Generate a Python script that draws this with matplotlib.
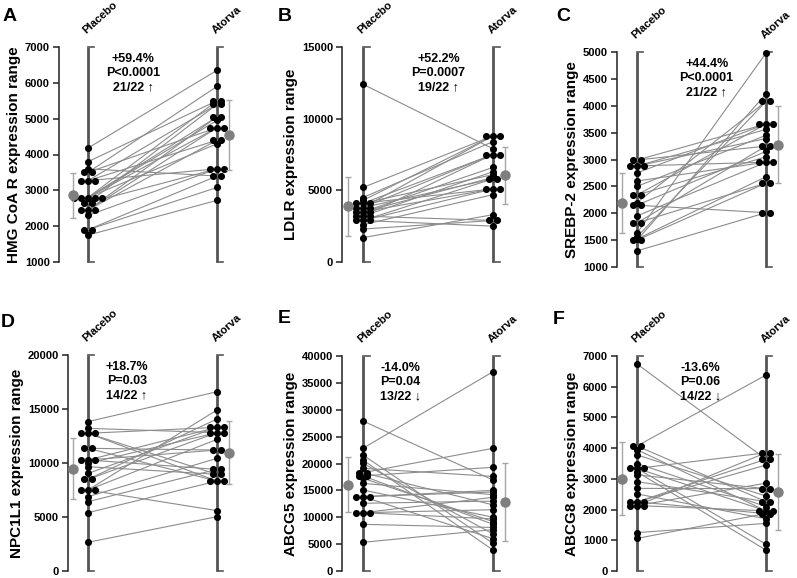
import matplotlib.pyplot as plt
import matplotlib.transforms as mtransforms
import numpy as np

plt.rcParams['font.family'] = ['Liberation Sans', 'DejaVu Sans']
plt.rcParams['font.weight'] = 'bold'

## -- paired values per subject (placebo[i] <-> atorva[i])
hmg_placebo = [4180, 3800, 3600, 3500, 3500, 3270, 3270, 3270, 2800, 2800, 2800,
               2800, 2800, 2650, 2650, 2450, 2450, 2450, 2300, 1900, 1900, 1750]
hmg_atorva  = [6350, 5500, 3400, 5900, 4750, 5400, 3600, 4400, 5500, 5050, 4950,
               4750, 4300, 5400, 3600, 5050, 4750, 4400, 3600, 3400, 3080, 2720]

ldlr_placebo = [12400, 5200, 4500, 4300, 4100, 4100, 4100, 3800, 3800, 3800, 3500,
                3500, 3500, 3200, 3200, 3200, 2900, 2900, 2900, 2600, 2300, 1700]
ldlr_atorva  = [7900, 8800, 8400, 8800, 7500, 6100, 5100, 8800, 7500, 5800, 6600,
                5900, 5100, 7500, 6300, 2900, 5800, 5100, 2500, 4700, 2900, 3300]

srebp_placebo = [2990, 2990, 2880, 2880, 2880, 2750, 2600, 2500, 2340, 2340, 2200,
                 2150, 2150, 1950, 1820, 1820, 1630, 1560, 1520, 1500, 1500, 1300]
srebp_atorva  = [3660, 3250, 3560, 3390, 2950, 3660, 2950, 3450, 3660, 3050, 4080,
                 2010, 3150, 2950, 3250, 2560, 4980, 4080, 2680, 2560, 4220, 2010]

npc_placebo = [13830, 13210, 12750, 12750, 12750, 11360, 11360, 10280, 10280, 10280, 9970,
               9660, 9040, 8490, 8490, 7500, 7500, 7500, 6880, 6420, 5400, 2660]
npc_atorva  = [16600, 12810, 13300, 8950, 8330, 11200, 8330, 13300, 9410, 11200, 12810,
               8950, 13300, 12810, 14070, 5590, 14910, 12190, 10430, 9410, 8330, 5030]

abcg5_placebo = [27900, 22830, 21580, 20650, 20030, 19100, 18290, 18290, 17700, 17700, 17240,
                 16300, 15070, 13830, 13830, 13830, 12600, 10850, 10850, 10850, 8680, 5330]
abcg5_atorva  = [16930, 37080, 5150, 3900, 6900, 17600, 22830, 12300, 19290, 8700, 9200,
                 14200, 10000, 15000, 14700, 6000, 13000, 11400, 13700, 9700, 8100, 7700]

abcg8_placebo = [6740, 4070, 4070, 3950, 3780, 3500, 3340, 3340, 3340, 3230, 3130,
                 2910, 2690, 2510, 2250, 2250, 2250, 2130, 2130, 2130, 1250, 1060]
abcg8_atorva  = [3640, 6380, 2260, 1960, 2440, 2100, 3850, 870, 1960, 680, 2680,
                 2260, 2680, 1700, 3640, 3450, 1870, 3850, 1960, 2860, 1550, 1870]

group_names = ['Placebo', 'Atorva']
letters = ['A', 'B', 'C', 'D', 'E', 'F']
ylabels = ['HMG CoA R expression range', 'LDLR expression range', 'SREBP-2 expression range',
           'NPC1L1 expression range', 'ABCG5 expression range', 'ABCG8 expression range']
ylims = [(1000, 7000), (0, 15000), (1000, 5000), (0, 20000), (0, 40000), (0, 7000)]
ysteps = [1000, 5000, 500, 5000, 5000, 1000]
stats = ['+59.4%\nP<0.0001\n21/22 \u2191', '+52.2%\nP=0.0007\n19/22 \u2191',
         '+44.4%\nP<0.0001\n21/22 \u2191', '+18.7%\nP=0.03\n14/22 \u2191',
         '-14.0%\nP=0.04\n13/22 \u2193', '-13.6%\nP=0.06\n14/22 \u2193']
placebo_data = [hmg_placebo, ldlr_placebo, srebp_placebo, npc_placebo, abcg5_placebo, abcg8_placebo]
atorva_data = [hmg_atorva, ldlr_atorva, srebp_atorva, npc_atorva, abcg5_atorva, abcg8_atorva]

## -- layout in pixels: y-spine x, placebo x, atorva x, top, bottom, stats text x (data units)
W, H = 797, 578
geom = [(59, 88, 217, 47, 262, 1.35), (342, 363, 493, 47, 262, 1.58),
        (617, 637, 766, 52, 267, 1.54), (68, 88, 217, 355, 571, 1.30),
        (342, 363, 493, 356, 571, 1.285), (617, 637, 766, 356, 571, 1.49)]
letter_pos = [(3, 8), (278, 8), (556, 8), (1, 314), (278, 310), (553, 311)]


def swarm_x(vals, xc, dx):
    ## -- spread identical values sideways like a dot plot
    vals = np.asarray(vals)
    xs = np.full(len(vals), float(xc))
    for v in np.unique(vals):
        idx = np.where(vals == v)[0]
        n = len(idx)
        xs[idx] = xc + (np.arange(n) - (n - 1) / 2.) * dx
    return xs


fig = plt.figure(figsize=(W / 100., H / 100.), dpi=100)
fig.patch.set_facecolor('white')

for k in range(6):
    spine, xp, xa, top, bot, xtxt = geom[k]
    unit = float(xa - xp)
    x0 = 1 - (xp - spine) / unit
    x1 = 2.2
    right = spine + (x1 - x0) * unit
    ax = fig.add_axes([spine / W, 1 - bot / H, (right - spine) / W, (bot - top) / H])
    ax.set_xlim(x0, x1)
    ax.set_ylim(ylims[k])
    for s in ['top', 'right', 'bottom']:
        ax.spines[s].set_visible(False)
    ax.spines['left'].set_linewidth(1.1)
    ax.spines['left'].set_color('#222222')
    ax.set_xticks([])
    ax.set_yticks(np.arange(ylims[k][0], ylims[k][1] + 1, ysteps[k]))
    ax.tick_params(axis='y', length=4.5, width=1.1, labelsize=8, pad=2, color='#222222')
    for lab in ax.get_yticklabels():
        lab.set_fontweight('bold')
    ax.set_ylabel(ylabels[k], fontsize=11, fontweight='bold', labelpad=3)

    plac = placebo_data[k]
    ator = atorva_data[k]
    yl = ylims[k]
    ## -- range bars for each group
    for xc in (1, 2):
        ax.plot([xc, xc], yl, color='#555555', lw=2, zorder=1, solid_capstyle='butt', clip_on=False)
        for yy in yl:
            ax.plot([xc, xc + 0.05], [yy, yy], color='#555555', lw=1.2, zorder=1, clip_on=False)
    ## -- subject lines
    for p, a in zip(plac, ator):
        ax.plot([1, 2], [p, a], color='#8c8c8c', lw=0.8, zorder=2)
    ## -- dots
    ax.scatter(swarm_x(plac, 1, 0.055), plac, s=26, c='k', linewidths=0, zorder=3, clip_on=False)
    ax.scatter(swarm_x(ator, 2, 0.055), ator, s=26, c='k', linewidths=0, zorder=3, clip_on=False)
    ## -- mean +/- sd
    ax.errorbar(1 - 0.115, np.mean(plac), yerr=np.std(plac, ddof=1), fmt='o', color='#7f7f7f',
                ecolor='#a6a6a6', ms=6.5, elinewidth=1, capsize=2.5, zorder=3)
    ax.errorbar(2 + 0.09, np.mean(ator), yerr=np.std(ator, ddof=1), fmt='o', color='#7f7f7f',
                ecolor='#a6a6a6', ms=6.5, elinewidth=1, capsize=2.5, zorder=3)

    trans = mtransforms.blended_transform_factory(ax.transData, ax.transAxes)
    for xc, name in zip((1, 2), group_names):
        ax.text(xc, 1 + 12. / (bot - top), name, transform=trans, rotation=42,
                rotation_mode='anchor', ha='left', va='bottom', fontsize=8, fontweight='bold')
    ax.text(xtxt, 0.97, stats[k], transform=trans, ha='center', va='top', fontsize=9,
            fontweight='bold', linespacing=1.2)
    fig.text(letter_pos[k][0] / W, 1 - letter_pos[k][1] / H, letters[k], fontsize=14,
             fontweight='bold', ha='left', va='top')

fig.savefig('out.png', dpi=100, facecolor='white')
